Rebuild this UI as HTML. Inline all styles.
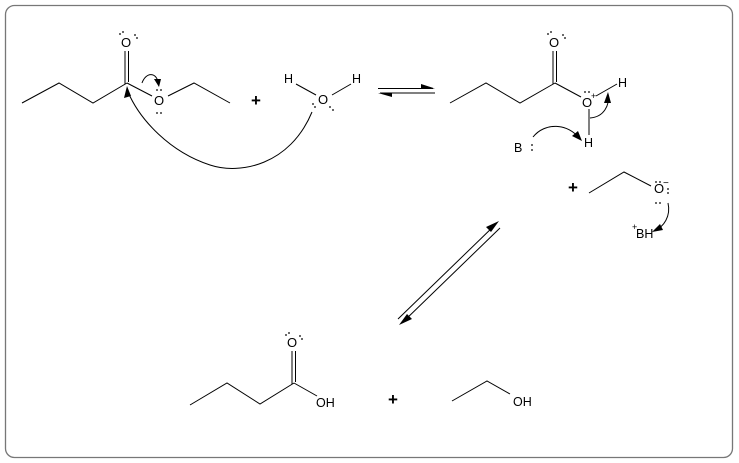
<!DOCTYPE html>
<html><head><meta charset="utf-8"><style>
html,body{margin:0;padding:0;background:#fff;}
svg{display:block;}
text{font-family:"Liberation Sans",sans-serif;font-size:13px;fill:#000;}
.s{font-size:12.5px;}
</style></head><body>
<svg width="739" height="463" viewBox="0 0 739 463" xmlns="http://www.w3.org/2000/svg">
<rect x="5.5" y="5.5" width="727" height="452" rx="9" fill="#fff" stroke="#777" stroke-width="1.3"/>
<g stroke="#000" stroke-width="1" fill="none">
<!-- ester -->
<polyline points="22,103 59,83 93,103 127,83"/>
<line x1="125" y1="51" x2="125" y2="84"/><line x1="128.5" y1="51" x2="128.5" y2="82"/>
<line x1="127" y1="83" x2="152" y2="96"/>
<polyline points="168,96 194,83 230,103"/>
<!-- water -->
<line x1="296" y1="84" x2="316" y2="95"/><line x1="351" y1="84" x2="332" y2="95"/>
<!-- big arrow -->
<path d="M312,112 C290,165 240,175 210,165 C170,152 140,120 128,92"/>
<!-- small arrow -->
<path d="M142,83 C146,72 156,72 158,82"/>
<!-- eq arrows -->
<line x1="378" y1="88.5" x2="433" y2="88.5"/><line x1="380" y1="93" x2="435" y2="93"/>
<!-- protonated -->
<polyline points="450,103 486,83 520,103 555,83"/>
<line x1="553" y1="51" x2="553" y2="84"/><line x1="556.5" y1="51" x2="556.5" y2="82"/>
<line x1="555" y1="83" x2="581" y2="97"/>
<line x1="596" y1="96" x2="617" y2="84"/>
<line x1="589" y1="109" x2="589" y2="135"/>
<path d="M533,137 C545,122 568,123 580,139"/>
<path d="M590,118 C604,117 610,105 608,94"/>
<!-- ethoxide -->
<polyline points="589,193 624,172 651,186"/>
<path d="M668,203 C671,216 664,227 654,231"/>
<!-- diag -->
<line x1="398" y1="319" x2="496" y2="224"/><line x1="402" y1="323" x2="500" y2="228"/>
<!-- acid -->
<polyline points="190,405 227,383 260,404 294,383"/>
<line x1="292" y1="351" x2="292" y2="384"/><line x1="295.5" y1="351" x2="295.5" y2="382"/>
<line x1="294" y1="383" x2="317" y2="396"/>
<!-- ethanol -->
<polyline points="452,401 487,381 510,394"/>
</g>
<g fill="#000">
<path d="M127,86 L124,98 L131,96 Z"/>
<path d="M159,87 L154,79 L161,79 Z"/>
<path d="M435,88.5 L421,84 L421,88.5 Z"/>
<path d="M378,93 L392,97 L392,93 Z"/>
<path d="M608,92 L604,103 L611,103 Z"/>
<path d="M582,141 L572,136 L578,131 Z"/>
<path d="M652,232 L660,224 L663,230 Z"/>
<path d="M499,221 L486,227 L491,232 Z"/>
<path d="M399,325 L412,319 L407,314 Z"/>
</g>
<text x="121" y="47">O</text>
<text x="154" y="105">O</text>
<text x="284" y="83" class="s">H</text><text x="352" y="83" class="s">H</text>
<text x="318" y="104">O</text>
<text x="549" y="47">O</text>
<text x="582" y="107">O</text><text x="591" y="99" style="font-size:9px">+</text>
<text x="618" y="87" class="s">H</text>
<text x="584" y="147" class="s">H</text>
<text x="514" y="152" class="s">B</text>
<text x="654" y="193">O</text><text x="663" y="186" style="font-size:10px">−</text>
<text x="636" y="238" class="s">BH</text><text x="632" y="230" style="font-size:9px">+</text>
<text x="287" y="347">O</text>
<text x="316" y="407" class="s">OH</text>
<text x="513" y="406" class="s">OH</text>
<text x="251" y="106" style="font-size:17px;font-weight:bold">+</text>
<text x="568" y="193" style="font-size:17px;font-weight:bold">+</text>
<text x="388" y="405" style="font-size:17px;font-weight:bold">+</text>
<g fill="#000">
<!-- lone pair dots -->
<circle cx="120" cy="34" r=".9"/><circle cx="123" cy="32" r=".9"/><circle cx="135" cy="35" r=".9"/><circle cx="137" cy="38" r=".9"/>
<circle cx="157" cy="90" r=".9"/><circle cx="161" cy="90" r=".9"/><circle cx="157" cy="113" r=".9"/><circle cx="161" cy="113" r=".9"/>
<circle cx="313" cy="104" r=".9"/><circle cx="315" cy="107" r=".9"/><circle cx="330" cy="107" r=".9"/><circle cx="333" cy="110" r=".9"/>
<circle cx="548" cy="34" r=".9"/><circle cx="551" cy="32" r=".9"/><circle cx="563" cy="35" r=".9"/><circle cx="565" cy="38" r=".9"/>
<circle cx="585" cy="92" r=".9"/><circle cx="589" cy="92" r=".9"/>
<circle cx="532" cy="145" r=".9"/><circle cx="532" cy="150" r=".9"/>
<circle cx="656" cy="182" r=".9"/><circle cx="660" cy="182" r=".9"/><circle cx="668" cy="189" r=".9"/><circle cx="668" cy="193" r=".9"/><circle cx="656" cy="203" r=".9"/><circle cx="660" cy="203" r=".9"/>
<circle cx="286" cy="335" r=".9"/><circle cx="289" cy="333" r=".9"/><circle cx="300" cy="336" r=".9"/><circle cx="302" cy="339" r=".9"/>
</g>
</svg>
</body></html>
